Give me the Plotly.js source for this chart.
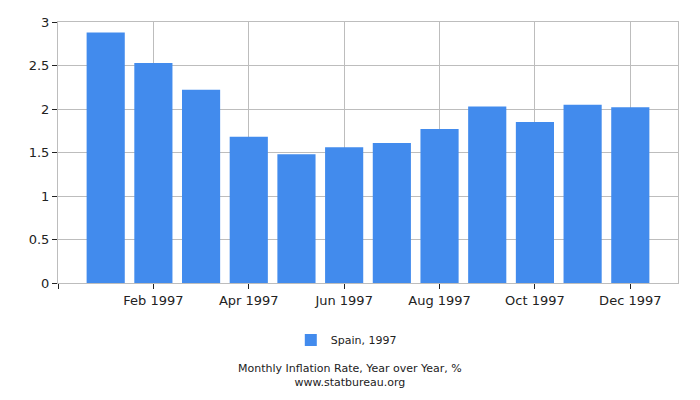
<!DOCTYPE html>
<html>
<head>
<meta charset="utf-8">
<script src="https://cdn.plot.ly/plotly-3.0.1.min.js"></script>
<style>
  html, body { margin: 0; padding: 0; background: #fff; }
  #chart { width: 700px; height: 400px; }
</style>
</head>
<body>
<div id="chart"></div>
<script>
  // Spain, monthly inflation rate (YoY, %), 1997
  const months = ["Jan 1997", "Feb 1997", "Mar 1997", "Apr 1997", "May 1997", "Jun 1997",
                  "Jul 1997", "Aug 1997", "Sep 1997", "Oct 1997", "Nov 1997", "Dec 1997"];
  const rates  = [2.88, 2.53, 2.22, 1.68, 1.48, 1.56, 1.61, 1.77, 2.03, 1.85, 2.05, 2.02];

  // labelled ticks every second month (the blank one sits on the left edge)
  const tickLabels = ["", "Feb 1997", "Apr 1997", "Jun 1997", "Aug 1997", "Oct 1997", "Dec 1997"];

  const seriesName = "Spain, 1997";

  // bars sit evenly spaced, one slot per month
  const xs = months.map((_, i) => i);
  const tickPos = tickLabels.map((t, i) => t === "" ? -1 : months.indexOf(t));

  const grid = "#bdbdbd";
  const ink = "#222222";

  const trace = {
    type: "bar",
    x: xs,
    y: rates,
    name: seriesName,
    width: 0.8,
    customdata: months,
    marker: { color: "#428bed" },
    hovertemplate: "%{customdata}: %{y}%<extra></extra>",
  };

  const layout = {
    width: 700,
    height: 400,
    paper_bgcolor: "#fff",
    plot_bgcolor: "#fff",
    font: { family: "DejaVu Sans, sans-serif", size: 13, color: ink },
    margin: { l: 58, r: 22, t: 22, b: 117 },
    showlegend: true,
    legend: {
      orientation: "h",
      x: 0.465, xanchor: "center",
      y: -0.218, yanchor: "middle",
      font: { size: 11, color: ink },
    },
    xaxis: {
      range: [-1, 12],
      tickmode: "array",
      tickvals: tickPos,
      ticktext: tickLabels,
      ticks: "outside",
      ticklen: 5,
      tickcolor: ink,
      showgrid: true,
      gridcolor: grid,
      showline: true,
      linecolor: grid,
      mirror: true,
      zeroline: false,
      tickfont: { size: 13, color: ink },
    },
    yaxis: {
      range: [0, 3],
      dtick: 0.5,
      ticks: "outside",
      ticklen: 5,
      tickcolor: ink,
      showgrid: true,
      gridcolor: grid,
      showline: true,
      linecolor: grid,
      mirror: true,
      zeroline: false,
      tickfont: { size: 13, color: ink },
    },
    annotations: [
      {
        text: "Monthly Inflation Rate, Year over Year, %<br>www.statbureau.org",
        xref: "paper", yref: "paper",
        x: 0.471, y: -0.356, xanchor: "center", yanchor: "middle",
        showarrow: false,
        font: { size: 11, color: ink },
      },
    ],
  };

  Plotly.newPlot("chart", [trace], layout, { displayModeBar: false, staticPlot: true });
</script>
</body>
</html>
